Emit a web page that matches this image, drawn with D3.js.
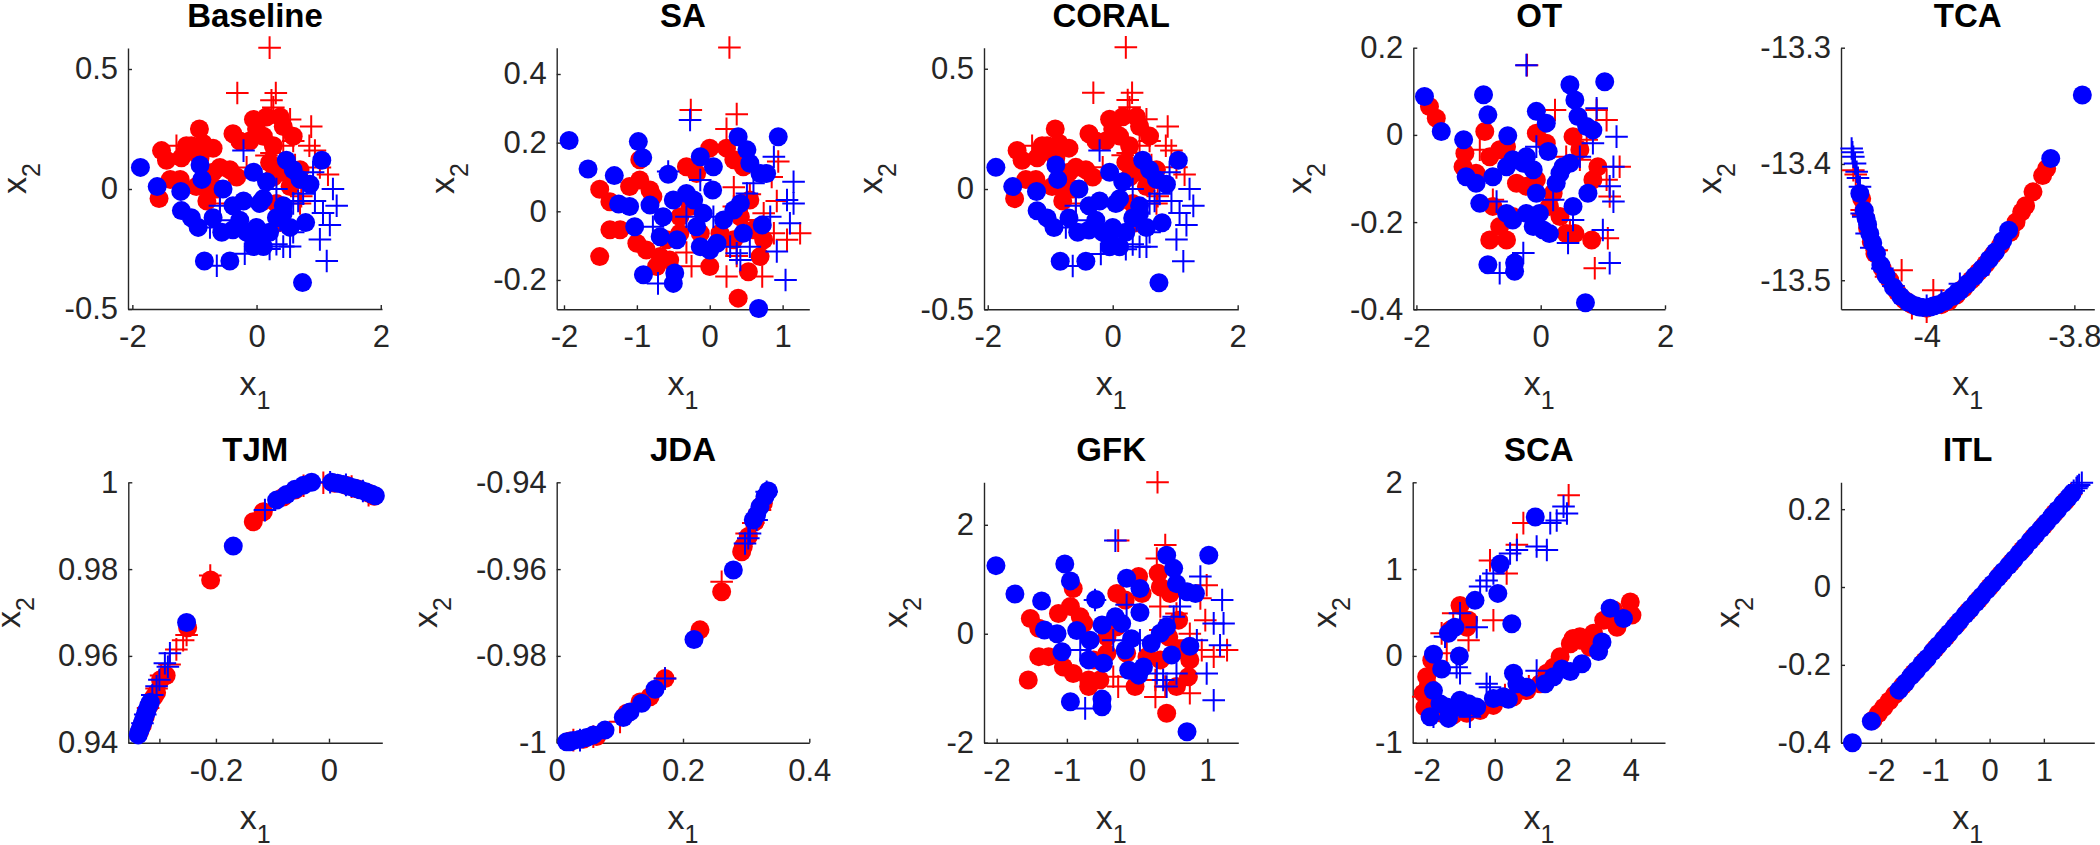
<!DOCTYPE html>
<html><head><meta charset="utf-8">
<script src="https://cdn.jsdelivr.net/npm/d3@7"></script>
<style>body{margin:0;background:#fff}</style>
</head><body><svg id="c" width="2100" height="845"></svg>
<script>
// ---------------- data (x1, x2) ----------------
// Baseline
const baseSrcO = [[-1.57,-0.04],[-1.53,0.16],[-1.45,0.12],[-1.39,0.04],[-1.23,0.04],[-1.15,0.15],[-1.05,0.18],[-0.92,0.25],[-0.86,0.19],[-0.70,0.17],[-0.91,0.13],[-0.80,0.01],[-0.97,0.01],[-0.70,0.07],[-0.59,0.09],[-0.43,0.08],[-0.32,0.05],[-0.38,0.23],[-0.27,0.20],[-0.05,0.29],[0.0,0.25],[-0.11,0.20],[0.16,0.30],[0.38,0.30],[0.43,0.26],[0.59,0.22],[0.21,0.11],[0.27,0.05],[0.43,0.07],[0.54,0.01],[0.59,0.04],[0.70,0.08],[0.11,0.22],[0.27,0.18],[0.32,-0.06],[0.38,-0.14],[0.11,-0.05],[-1.13,0.18],[-1.21,0.13],[-0.80,-0.05],[-0.64,0.0]];
const baseSrcP = [[0.21,0.589],[-0.31,0.40],[0.31,0.40],[0.24,0.37],[0.27,0.34],[0.54,0.29],[0.88,0.26],[0.85,0.18],[0.59,0.20],[0.24,0.15],[0.43,0.18],[0.16,0.14],[1.15,0.06],[1.02,0.09],[0.94,0.16],[-1.29,0.18],[0.72,-0.03],[0.70,-0.06],[-0.16,0.09],[-0.59,-0.06],[0.38,0.12],[0.62,0.10]];
const baseTgtO = [[-1.87,0.09],[-1.60,0.01],[-1.22,-0.01],[-1.21,-0.09],[-1.05,-0.12],[-0.94,-0.16],[-0.91,0.10],[-0.88,0.04],[-0.84,-0.30],[-0.43,-0.30],[-0.70,-0.12],[-0.56,-0.18],[-0.54,0.0],[-0.38,-0.07],[-0.27,-0.13],[-0.16,-0.18],[-0.05,-0.21],[0.11,-0.24],[-0.21,-0.05],[-0.05,0.07],[0.16,0.03],[0.11,-0.04],[0.0,-0.16],[0.21,-0.18],[0.32,-0.12],[0.43,-0.07],[0.48,0.12],[0.59,0.08],[0.70,0.04],[0.86,0.02],[1.05,0.12],[0.79,-0.14],[0.54,-0.16],[0.74,-0.39],[0.43,-0.10],[-0.38,-0.17],[-0.05,-0.24],[0.05,-0.06]];
const baseTgtP = [[-0.21,0.16],[-0.64,-0.32],[-0.19,-0.27],[-0.75,-0.16],[1.13,-0.30],[1.02,-0.21],[1.23,0.0],[1.29,-0.07],[1.18,-0.15],[1.07,-0.10],[0.94,-0.05],[0.91,0.07],[0.75,-0.02],[0.54,-0.24],[0.43,-0.24],[0.32,-0.23],[0.21,-0.25],[0.59,-0.18],[0.67,-0.05],[-0.38,-0.13],[-0.59,-0.07],[0.32,0.0],[0.59,-0.06],[0.38,-0.13]];
// SA
const saSrcO = [[-1.51,0.064],[-1.37,0.028],[-1.37,-0.054],[-1.23,-0.054],[-1.51,-0.132],[-1.10,0.072],[-0.96,0.091],[-0.82,0.062],[-0.96,0.15],[-0.78,0.043],[-1.0,-0.093],[-0.87,-0.113],[-0.68,-0.132],[-0.73,-0.161],[-0.55,-0.142],[-0.41,-0.064],[-0.32,0.13],[-0.18,0.11],[0.0,0.184],[0.23,0.184],[0.0,-0.161],[0.14,-0.064],[0.33,-0.083],[0.39,-0.253],[0.53,-0.176],[0.69,-0.132],[0.74,-0.083],[0.6,-0.054],[0.42,-0.016],[0.55,0.033],[0.33,0.15],[0.46,0.13],[-0.41,-0.016],[-0.27,0.014],[-0.13,-0.064],[-0.59,-0.083]];
const saSrcP = [[0.27,0.477],[-0.26,0.295],[0.37,0.283],[0.23,0.24],[0.94,0.145],[0.85,0.10],[0.33,0.07],[0.55,0.05],[1.24,-0.064],[1.06,-0.083],[0.88,-0.064],[0.74,-0.006],[0.23,-0.10],[0.37,-0.13],[0.23,-0.19],[0.72,-0.19],[-0.25,-0.16],[-0.32,-0.12],[0.92,0.03],[0.33,0.014],[0.51,-0.025]];
const saTgtO = [[-1.93,0.206],[-1.67,0.123],[-1.31,0.104],[-1.25,0.021],[-1.1,0.014],[-1.03,-0.045],[-0.98,0.203],[-0.92,0.156],[-0.91,-0.185],[-0.5,-0.21],[-0.48,-0.18],[-0.57,0.108],[-0.82,0.018],[-0.64,-0.016],[-0.68,-0.074],[-0.5,0.033],[-0.32,0.052],[-0.22,0.033],[-0.13,0.159],[0.05,0.13],[0.04,0.062],[-0.18,-0.045],[-0.13,-0.103],[0,-0.113],[0.1,-0.093],[-0.45,-0.083],[0.19,-0.025],[0.33,0.004],[0.42,0.023],[0.39,0.217],[0.51,0.179],[0.55,0.14],[0.69,0.11],[0.78,0.11],[0.94,0.217],[0.72,-0.04],[0.46,-0.064],[0.67,-0.283],[-0.09,-0.006]];
const saTgtP = [[-0.27,0.266],[-0.57,0.116],[-0.13,0.091],[-0.71,-0.21],[1.04,-0.2],[0.92,-0.117],[1.1,-0.035],[1.15,0.023],[1.15,0.086],[1.06,0.033],[0.88,0.159],[0.6,0.082],[0.51,0.052],[0.37,-0.122],[0.28,-0.103],[0.42,-0.142],[0.55,-0.103],[-0.32,-0.016],[-0.78,-0.045],[0.05,-0.016],[0.83,-0.016]];
// CORAL (same embedding as Baseline in the reference)
const coralSrcO = baseSrcO, coralSrcP = baseSrcP, coralTgtO = baseTgtO, coralTgtP = baseTgtP;
// OT
const otSrcO = [[-1.79,0.065],[-1.68,0.038],[-1.22,-0.042],[-1.25,-0.073],[-0.9,0.008],[-0.82,-0.05],[-0.66,-0.034],[-0.55,-0.027],[-1.04,-0.088],[-0.82,-0.241],[-0.55,-0.241],[-0.66,-0.21],[-0.45,-0.187],[-0.77,-0.164],[-0.07,0.004],[0.09,-0.019],[-0.07,-0.103],[0.14,-0.164],[0.31,-0.187],[0.41,-0.226],[0.55,-0.226],[0.82,-0.241],[0.63,-0.034],[0.52,-0.004],[0.92,-0.073],[0.84,-0.103],[-0.39,-0.111],[0.2,-0.134],[-0.23,-0.118]];
const otSrcP = [[-0.22,0.16],[0.23,0.057],[1.06,0.034],[0.9,0.057],[0.41,-0.05],[0.63,-0.057],[1.06,-0.103],[1.27,-0.073],[1.11,-0.141],[1.08,-0.237],[0.87,-0.306],[0.47,-0.218],[-0.98,-0.034],[-0.77,-0.149],[0.74,-0.011]];
const otTgtO = [[-1.87,0.088],[-1.6,0.008],[-1.24,-0.011],[-1.2,-0.096],[-0.98,-0.157],[-0.92,0.092],[-0.85,0.046],[-0.85,-0.298],[-0.42,-0.294],[-0.42,-0.313],[-0.53,-0.002],[-1.04,-0.111],[-0.77,-0.096],[-0.55,-0.073],[-0.45,-0.057],[-0.28,-0.065],[-0.23,-0.05],[-0.12,-0.08],[-0.55,-0.18],[-0.45,-0.195],[-0.07,0.054],[0.09,0.027],[0.12,-0.038],[-0.07,-0.134],[-0.02,-0.18],[0.04,-0.218],[0.14,-0.226],[-0.12,-0.21],[0.47,0.115],[0.55,0.08],[0.6,0.042],[0.74,0.019],[0.84,0.011],[1.03,0.122],[0.76,-0.134],[0.52,-0.164],[0.31,-0.088],[0.36,-0.073],[0.47,-0.065],[0.25,-0.111],[0.72,-0.385],[-0.23,-0.18]];
const otTgtP = [[-0.23,0.16],[0.9,0.061],[1.22,-0.004],[0.84,-0.019],[0.63,-0.05],[1.17,-0.073],[1.11,-0.118],[1.17,-0.153],[1.0,-0.218],[1.11,-0.294],[0.44,-0.248],[0.52,-0.195],[-0.28,-0.271],[-0.66,-0.317],[-0.71,-0.153],[-0.07,-0.027],[0.2,-0.149]];
// TCA
const tcaSrcO = [[-3.8375,-13.404],[-3.843,-13.41],[-3.856,-13.424],[-3.866,-13.436],[-3.8713,-13.4412],[-3.879,-13.45],[-3.887,-13.459],[-3.90,-13.470],[-3.91,-13.478],[-3.92,-13.486],[-3.93,-13.493],[-3.94,-13.50],[-3.95,-13.507],[-3.96,-13.513],[-3.97,-13.518],[-3.98,-13.521],[-4.0,-13.524],[-4.02,-13.521],[-4.03,-13.517],[-4.04,-13.51],[-4.05,-13.50],[-4.06,-13.49],[-4.07,-13.477],[-4.075,-13.467],[-4.08,-13.455],[-4.085,-13.44],[-4.088,-13.43]];
const tcaSrcP = [[-4.0993,-13.4053],[-4.096,-13.409],[-4.088,-13.4397],[-4.086,-13.444],[-4.0677,-13.4742],[-4.0339,-13.4914],[-4.055,-13.497],[-4.02,-13.524],[-4.0,-13.527],[-3.991,-13.5086],[-3.95,-13.507],[-3.93,-13.495]];
const tcaTgtO = [[-3.7892,-13.3407],[-3.832,-13.3953],[-3.889,-13.457],[-3.897,-13.466],[-3.907,-13.4756],[-3.915,-13.482],[-3.925,-13.490],[-3.935,-13.4965],[-3.945,-13.503],[-3.955,-13.509],[-3.965,-13.514],[-3.975,-13.518],[-3.985,-13.521],[-3.995,-13.523],[-4.005,-13.5235],[-4.015,-13.522],[-4.025,-13.519],[-4.035,-13.514],[-4.045,-13.506],[-4.055,-13.496],[-4.062,-13.487],[-4.068,-13.477],[-4.073,-13.468],[-4.077,-13.46],[-4.080,-13.452],[-4.082,-13.447],[-4.0845,-13.44],[-4.0905,-13.4254],[-3.958,-13.510],[-3.99,-13.522],[-4.01,-13.523]];
const tcaTgtP = [[-4.1016,-13.3867],[-4.1005,-13.390],[-4.0993,-13.3938],[-4.097,-13.3996],[-4.0948,-13.4067],[-4.093,-13.412],[-4.0903,-13.4197],[-4.088,-13.4426],[-4.0858,-13.4455],[-4.0813,-13.4598],[-4.075,-13.472],[-4.06,-13.49],[-4.045,-13.505],[-4.0,-13.522],[-3.98,-13.518],[-3.955,-13.503]];
// TJM
const tjmSrcO = [[-0.2094,0.9775],[-0.1339,0.9909],[-0.1162,0.9932],[-0.0808,0.9966],[-0.06,0.9982],[-0.25,0.9665],[-0.288,0.9555],[-0.298,0.9545],[-0.305,0.9515],[-0.31,0.9505],[-0.318,0.9485],[-0.325,0.946],[-0.33,0.944],[0.01,0.9998],[0.03,0.9993],[0.05,0.9985],[0.07,0.9975],[0.08,0.9968],[-0.335,0.9425]];
const tjmSrcP = [[-0.2519,0.9648],[-0.258,0.9636],[-0.27,0.9615],[-0.282,0.958],[-0.297,0.9555],[-0.305,0.9525],[-0.31,0.951],[-0.32,0.948],[-0.01,0.9999],[-0.045,0.9992],[0.04,0.999],[0.07,0.997],[-0.21,0.9785]];
const tjmTgtO = [[-0.3375,0.9418],[-0.336,0.9425],[-0.334,0.943],[-0.332,0.9438],[-0.330,0.9445],[-0.328,0.9452],[-0.326,0.946],[-0.324,0.9468],[-0.322,0.9475],[-0.319,0.9485],[-0.316,0.9493],[-0.2519,0.9677],[-0.1693,0.9853],[-0.0926,0.9959],[-0.075,0.9972],[-0.06,0.9984],[-0.0307,1.0],[0.005,1.0],[0.015,0.9998],[0.025,0.9995],[0.035,0.9991],[0.045,0.9987],[0.055,0.9983],[0.065,0.9978],[0.075,0.9973],[0.082,0.9969],[-0.045,0.9993]];
const tjmTgtP = [[-0.2903,0.9583],[-0.2814,0.9606],[-0.285,0.9575],[-0.30,0.9545],[-0.305,0.953],[-0.3125,0.951],[-0.1133,0.9936],[0.002,1.0],[0.03,0.9994],[0.06,0.998],[-0.33,0.9445],[-0.325,0.9465]];
// JDA
const jdaSrcO = [[0.0211,-0.9996],[0.0422,-0.9992],[0.0633,-0.9986],[0.1108,-0.9932],[0.1319,-0.9906],[0.1478,-0.9894],[0.1715,-0.9852],[0.2269,-0.974],[0.2612,-0.9652],[0.2929,-0.956],[0.3034,-0.9525],[0.314,-0.9491],[0.3272,-0.9448],[0.2955,-0.9548]];
const jdaSrcP = [[0.1715,-0.9852],[0.2612,-0.9629],[0.3008,-0.9518],[0.3113,-0.9494],[0.0264,-0.9994],[0.058,-0.9986],[0.3219,-0.9464],[0.1003,-0.9952]];
const jdaTgtO = [[0.0158,-0.9998],[0.0264,-0.9995],[0.0369,-0.9992],[0.0475,-0.9988],[0.058,-0.9982],[0.0765,-0.9971],[0.1055,-0.9942],[0.1161,-0.9929],[0.1346,-0.9909],[0.1557,-0.9877],[0.2174,-0.9762],[0.2797,-0.9602],[0.3113,-0.9487],[0.3219,-0.9456],[0.3298,-0.9433],[0.3351,-0.942],[0.3166,-0.9475],[0.0211,-0.9998]];
const jdaTgtP = [[0.1715,-0.9852],[0.2982,-0.9541],[0.3061,-0.9518],[0.3166,-0.9487],[0.0369,-0.9994],[0.3325,-0.9422],[0.3034,-0.9529]];
// GFK
const gfkSrcO = [[-1.55,-0.85],[-1.52,0.28],[-1.40,0.10],[-1.40,-0.42],[-1.26,-0.42],[-1.12,0.37],[-0.95,0.50],[-0.81,0.31],[-0.91,0.83],[-0.76,0.19],[-1.05,-0.61],[-0.91,-0.73],[-0.69,-0.85],[-0.69,-0.97],[-0.53,-0.85],[-0.43,-0.36],[-0.29,0.74],[-0.17,0.62],[0.02,1.05],[0.30,1.11],[-0.03,-0.97],[0.14,-0.42],[0.33,-0.48],[0.42,-1.46],[0.56,-0.97],[0.73,-0.79],[0.75,-0.48],[0.61,-0.30],[0.45,-0.06],[0.59,0.25],[0.33,0.86],[0.47,0.74],[-0.43,-0.06],[-0.29,0.13],[-0.15,-0.36],[-0.62,-0.48],[0.07,0.74]];
const gfkSrcP = [[0.29,2.78],[-0.27,1.71],[0.40,1.63],[0.28,1.38],[0.99,0.89],[0.9,0.65],[0.33,0.50],[0.56,0.37],[1.28,-0.30],[1.09,-0.42],[0.92,-0.30],[0.75,0],[0.26,-0.85],[0.40,-0.97],[0.26,-1.16],[0.75,-1.09],[-0.27,-0.97],[-0.34,-0.79],[0.97,0.25],[0.33,0.07],[0.52,-0.12]];
const gfkTgtO = [[-2.01,1.25],[-1.74,0.73],[-1.36,0.60],[-1.32,0.07],[-1.14,0.0],[-1.07,-0.33],[-1.03,1.28],[-0.95,0.97],[-0.95,-1.25],[-0.50,-1.34],[-0.50,-1.20],[-0.59,0.63],[-0.86,0.06],[-0.67,-0.12],[-0.69,-0.48],[-0.50,0.16],[-0.31,0.31],[-0.22,0.19],[-0.15,1.02],[0.04,0.83],[0.04,0.39],[-0.17,-0.30],[-0.12,-0.67],[0.02,-0.76],[0.09,-0.61],[-0.48,-0.54],[0.20,-0.18],[0.33,0.01],[0.42,0.13],[0.42,1.44],[0.52,1.20],[0.56,0.92],[0.71,0.77],[0.83,0.74],[1.02,1.44],[0.75,-0.23],[0.49,-0.39],[0.71,-1.80],[-0.08,-0.09]];
const gfkTgtP = [[-0.31,1.71],[-0.60,0.62],[-0.15,0.53],[-0.74,-1.37],[1.09,-1.22],[0.99,-0.73],[1.18,-0.21],[1.23,0.19],[1.21,0.62],[1.09,0.19],[0.90,1.05],[0.61,0.50],[0.52,0.31],[0.37,-0.85],[0.28,-0.73],[0.42,-0.97],[0.56,-0.73],[-0.34,-0.12],[-0.81,-0.30],[0.04,-0.12],[0.85,-0.12]];
// SCA
const scaSrcO = [[-1.02,0.58],[-0.77,0.41],[-0.82,0.33],[-2.0,-0.24],[-2.10,-0.43],[-2.05,-0.59],[3.98,0.62],[4.03,0.47],[3.59,0.33],[3.20,0.41],[2.90,0.26],[2.51,0.18],[2.22,0.14],[1.92,-0.01],[1.73,-0.13],[1.53,-0.20],[1.33,-0.32],[0.94,-0.40],[0.55,-0.47],[-0.04,-0.57],[-0.43,-0.63],[-0.82,-0.66],[-1.22,-0.68],[-1.56,-0.66],[-1.80,-0.55],[2.80,0.10],[3.49,0.53],[-1.95,-0.35],[-1.85,-0.05],[-1.3,0.3],[2.3,0.2],[2.5,0.22],[2.7,0.2],[3.7,0.45]];
const scaSrcP = [[2.17,1.85],[0.84,1.53],[-0.14,1.10],[0.35,0.95],[-0.04,0.41],[0.65,1.28],[-1.22,0.49],[-1.56,0.26],[-2.10,-0.47],[-1.80,-0.20],[-1.41,0.03],[-0.77,0.18],[0.3,-0.45],[1.0,-0.35]];
const scaTgtO = [[1.19,1.60],[0.16,1.06],[-0.58,0.64],[0.09,0.72],[0.5,0.37],[-1.36,0.26],[-1.17,0.33],[-1.80,0.02],[-1.04,0.0],[-1.56,-0.15],[-1.80,-0.40],[-1.90,-0.70],[-1.61,-0.55],[-1.36,-0.72],[-1.41,-0.59],[-1.02,-0.51],[-0.77,-0.55],[-0.53,-0.59],[-0.04,-0.49],[0.25,-0.47],[0.55,-0.20],[0.65,-0.32],[0.94,-0.36],[1.48,-0.32],[1.73,-0.24],[1.97,-0.15],[2.22,-0.18],[2.56,-0.09],[3.05,0.05],[3.15,0.16],[3.39,0.55],[3.78,0.43],[-1.2,-0.6],[-0.9,-0.6],[0.4,-0.5]];
const scaTgtP = [[2.02,1.72],[1.82,1.56],[1.63,1.53],[2.12,1.64],[1.53,1.22],[1.23,1.26],[0.65,1.22],[0.45,1.18],[-0.24,0.87],[-0.43,0.80],[-0.04,0.95],[-0.53,0.33],[-1.02,0.49],[-1.46,0.22],[-1.02,-0.20],[-1.12,-0.13],[1.23,-0.17],[-0.14,-0.36],[-0.24,-0.32],[-1.80,-0.70],[-0.73,-0.70]];
// ITL
const itlSrcO = [[-2.15,-0.342],[-2.05,-0.325],[-1.95,-0.309],[-1.85,-0.293],[-1.75,-0.277],[-1.6,-0.253],[-1.4,-0.221],[-1.2,-0.190],[-1.0,-0.158],[-0.8,-0.127],[-0.6,-0.095],[-0.4,-0.063],[-0.2,-0.032],[0.0,0.0],[0.2,0.032],[0.4,0.063],[0.6,0.095],[0.8,0.127],[1.0,0.158],[1.2,0.190],[1.4,0.221]];
const itlSrcP = [[1.5,0.238],[1.3,0.206],[1.0,0.158],[0.6,0.095],[0.2,0.032],[-0.2,-0.032],[-0.6,-0.095],[-1.0,-0.158],[-1.4,-0.221],[-1.8,-0.285]];
const itlTgtO = [[-2.53,-0.400],[-2.18,-0.345],[-1.67,-0.265],[-1.55,-0.246],[-1.45,-0.229],[-1.35,-0.214],[-1.25,-0.198],[-1.15,-0.183],[-1.05,-0.166],[-0.95,-0.150],[-0.85,-0.135],[-0.75,-0.119],[-0.65,-0.103],[-0.55,-0.087],[-0.45,-0.071],[-0.35,-0.056],[-0.25,-0.040],[-0.15,-0.024],[-0.05,-0.008],[0.05,0.008],[0.15,0.024],[0.25,0.040],[0.35,0.055],[0.45,0.071],[0.55,0.087],[0.65,0.103],[0.75,0.119],[0.85,0.135],[0.95,0.150],[1.05,0.166],[1.15,0.182],[1.25,0.198],[1.35,0.214],[1.45,0.229],[1.52,0.240]];
const itlTgtP = [[1.55,0.247],[1.6,0.254],[1.65,0.262],[1.7,0.268],[1.62,0.258],[1.45,0.231],[1.2,0.19],[0.9,0.142],[0.5,0.079],[0.1,0.016],[-0.3,-0.047],[-0.7,-0.111],[-1.1,-0.174],[-1.5,-0.237]];

// ---------------- titles and ticks ----------------
const titles = ["Baseline","SA","CORAL","OT","TCA","TJM","JDA","GFK","SCA","ITL"];
const xTicks = [[-2,0,2],[-2,-1,0,1],[-2,0,2],[-2,0,2],[-4,-3.8],[-0.3,-0.2,-0.1,0],[0,0.2,0.4],[-2,-1,0,1],[-2,0,2,4],[-2,-1,0,1]];
const xTickLabels = [null,null,null,null,null,["","-0.2","","0"],null,null,null,null];
const yTicks = [[-0.5,0,0.5],[-0.2,0,0.2,0.4],[-0.5,0,0.5],[-0.4,-0.2,0,0.2],[-13.5,-13.4,-13.3],[0.94,0.96,0.98,1],[-1,-0.98,-0.96,-0.94],[-2,0,2],[-1,0,1,2],[-0.4,-0.2,0,0.2]];
const xDomains = [[-2.07,2.02],[-2.10,1.366],[-2.06,2.01],[-2.05,2.0],[-4.116,-3.773],[-0.355,0.0943],[0,0.4],[-2.18,1.44],[-2.41,5.0],[-2.74,1.93]];
const yDomains = [[-0.5,0.5875],[-0.2855,0.4766],[-0.5,0.5875],[-0.4,0.2],[-13.525,-13.3],[0.94,1.0],[-1,-0.94],[-2,2.78],[-1,2],[-0.4,0.269]];
const seriesByPanel = [
  [baseSrcO, baseSrcP, baseTgtO, baseTgtP],
  [saSrcO, saSrcP, saTgtO, saTgtP],
  [coralSrcO, coralSrcP, coralTgtO, coralTgtP],
  [otSrcO, otSrcP, otTgtO, otTgtP],
  [tcaSrcO, tcaSrcP, tcaTgtO, tcaTgtP],
  [tjmSrcO, tjmSrcP, tjmTgtO, tjmTgtP],
  [jdaSrcO, jdaSrcP, jdaTgtO, jdaTgtP],
  [gfkSrcO, gfkSrcP, gfkTgtO, gfkTgtP],
  [scaSrcO, scaSrcP, scaTgtO, scaTgtP],
  [itlSrcO, itlSrcP, itlTgtO, itlTgtP]
];

// ---------------- layout (pixels) ----------------
const boxes = [ // [left, right, top, bottom]
  [128,382,48,309],[556.7,809.3,47.7,309.3],[984,1238.3,47.7,309.3],[1413.3,1665,47.7,309.3],[1841,2094.3,47.7,309.3],
  [128.3,382.3,482.3,742.7],[556.7,809.3,482.3,742.7],[984,1238.3,482.3,742.7],[1412.7,1665,482.3,742.7],[1841,2094.3,482.3,742.7]
];
const markerStyle = [
  {shape:"o", color:"#ff0000"}, {shape:"+", color:"#ff0000"},
  {shape:"o", color:"#0000ff"}, {shape:"+", color:"#0000ff"}
];
const FONT = "'Liberation Sans', Arial, Helvetica, sans-serif";
const AX = "#262626";

const svg = d3.select("#c");
svg.append("rect").attr("width",2100).attr("height",845).attr("fill","#fff");

const fmt = v => String(+v.toFixed(6));

titles.forEach((t, i) => {
  const [L,R,T,B] = boxes[i];
  const x = d3.scaleLinear().domain(xDomains[i]).range([L,R]);
  const y = d3.scaleLinear().domain(yDomains[i]).range([B,T]);
  const g = svg.append("g");

  const xa = d3.axisBottom(x).tickValues(xTicks[i]).tickSizeInner(-4).tickSizeOuter(0).tickPadding(16)
    .tickFormat((d,k) => xTickLabels[i] ? xTickLabels[i][k] : fmt(d));
  const ya = d3.axisLeft(y).tickValues(yTicks[i]).tickSizeInner(-4).tickSizeOuter(0).tickPadding(10)
    .tickFormat(d => fmt(d));

  const gx = g.append("g").attr("transform",`translate(0,${B})`).call(xa);
  const gy = g.append("g").attr("transform",`translate(${L},0)`).call(ya);
  [gx,gy].forEach(a => {
    a.attr("font-size",31).attr("font-family",FONT).style("color",AX);
    a.selectAll("path,line").attr("stroke-width",1.4);
    a.selectAll("text").attr("fill",AX);
  });

  // markers
  seriesByPanel[i].forEach((pts, s) => {
    const st = markerStyle[s];
    if (st.shape === "o") {
      g.append("g").selectAll("circle").data(pts).join("circle")
        .attr("cx", d => x(d[0])).attr("cy", d => y(d[1])).attr("r", 9.5)
        .attr("fill", st.color);
    } else {
      g.append("g").selectAll("path").data(pts).join("path")
        .attr("d", d => `M${x(d[0])-11.3},${y(d[1])}H${x(d[0])+11.3}M${x(d[0])},${y(d[1])-11.3}V${y(d[1])+11.3}`)
        .attr("stroke", st.color).attr("stroke-width", 2).attr("fill","none");
    }
  });

  // title
  g.append("text").attr("x",(L+R)/2).attr("y",T-21).attr("text-anchor","middle")
    .attr("font-family",FONT).attr("font-size",33).attr("font-weight","bold").attr("fill","#000").text(t);

  // x label
  const xl = g.append("text").attr("x",(L+R)/2).attr("y",B+86).attr("text-anchor","middle")
    .attr("font-family",FONT).attr("font-size",34).attr("fill",AX);
  xl.append("tspan").text("x");
  xl.append("tspan").attr("font-size",25).attr("dy",14).text("1");

  // y label
  let maxW = 0;
  gy.selectAll("text").each(function(){ maxW = Math.max(maxW, this.getBBox().width); });
  const lx = Math.max(20, L - 10 - maxW - 39), cy = (T+B)/2;
  const yl = g.append("text").attr("transform",`translate(${lx},${cy}) rotate(-90)`).attr("text-anchor","middle")
    .attr("font-family",FONT).attr("font-size",34).attr("fill",AX);
  yl.append("tspan").text("x");
  yl.append("tspan").attr("font-size",25).attr("dy",14).text("2");
});
</script>
</body></html>
